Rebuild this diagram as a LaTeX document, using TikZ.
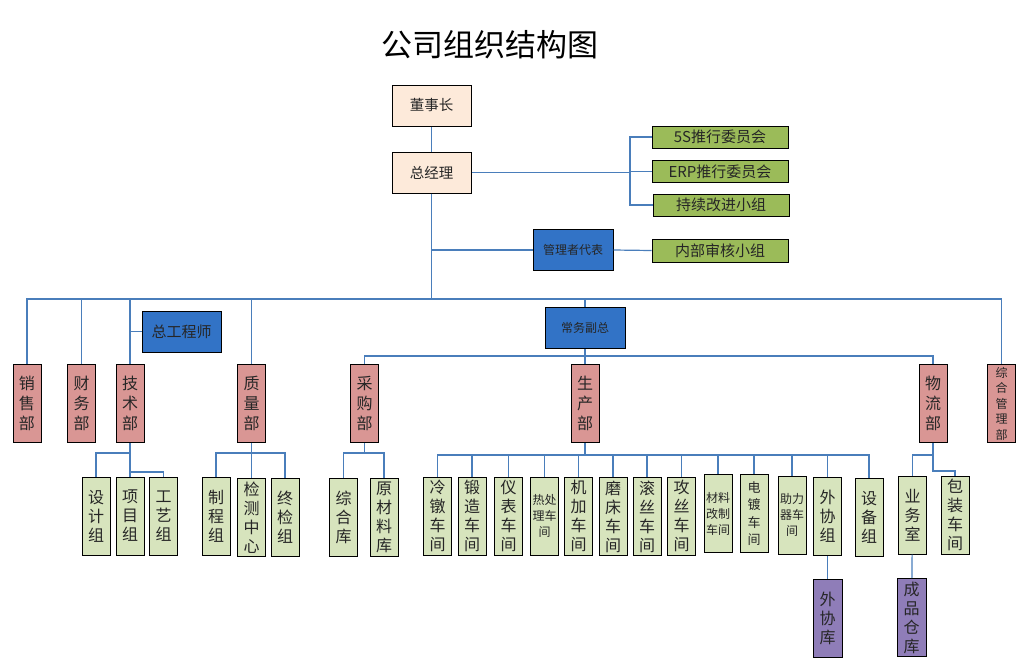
\documentclass[tikz,border=0pt]{standalone}
\usepackage{fontspec}
\setmainfont{Noto Sans CJK SC}
\usetikzlibrary{positioning}

\definecolor{peach}{HTML}{FDEADA}
\definecolor{olive}{HTML}{9BBB59}
\definecolor{lgreen}{HTML}{D7E4BD}
\definecolor{rose}{HTML}{D99694}
\definecolor{mblue}{HTML}{3273C6}
\definecolor{lilac}{HTML}{8F7DB8}
\definecolor{linkc}{HTML}{4A7EBB}

\tikzset{
  box/.style={draw=black, line width=1pt, inner sep=0pt, align=center, text=black!85},
  boss/.style={box, fill=peach, minimum width=79, minimum height=41, font=\fontsize{14.5}{16}\selectfont},
  team/.style={box, fill=olive, minimum width=136, minimum height=22, font=\fontsize{15}{16}\selectfont},
  chief/.style={box, fill=mblue, minimum width=79, minimum height=41},
  dept/.style={box, fill=rose, minimum width=28, minimum height=78, font=\fontsize{16}{20}\selectfont},
  unit/.style={box, fill=lgreen, minimum width=28, minimum height=78, font=\fontsize{16}{19}\selectfont},
  store/.style={box, fill=lilac, minimum width=29, minimum height=78, font=\fontsize{16}{19}\selectfont},
  small/.style={font=\fontsize{12}{16}\selectfont},
  link/.style={draw=linkc, line width=1.2pt}
}

\begin{document}
\begin{tikzpicture}[x=1pt,y=-1pt]
\useasboundingbox (0,0) rectangle (1017,659);

% title
\node[font=\fontsize{31}{33}\selectfont] (title) at (490,45) {公司组织结构图};

% top
\node[boss] (dsz) at (431.5,105.5) {董事长};
\node[boss] (zjl) at (431.5,172.5) {总经理};
\node[team] (wxs) at (720,137) {5S推行委员会};
\node[team] (erp) at (720,171.5) {ERP推行委员会};
\node[team] (cxgj) at (721,205) {持续改进小组};
\node[chief, minimum width=80, font=\fontsize{12}{14}\selectfont] (glz) at (573,250) {管理者代表};
\node[team, minimum height=23] (nbsh) at (720,250.5) {内部审核小组};
\node[chief, font=\fontsize{15}{16}\selectfont] (zgcs) at (181.5,331.5) {总工程师};
\node[chief, minimum width=80, font=\fontsize{12}{14}\selectfont] (cwfz) at (585,328) {常务副总};

% departments
\node[dept] (xsb) at (27,403.5) {销\\售\\部};
\node[dept] (cwb) at (81.5,403.5) {财\\务\\部};
\node[dept] (jsb) at (130,403.5) {技\\术\\部};
\node[dept] (zlb) at (251.5,403.5) {质\\量\\部};
\node[dept] (cgb) at (364.5,403.5) {采\\购\\部};
\node[dept] (scb) at (585,403.5) {生\\产\\部};
\node[dept] (wlb) at (933,403.5) {物\\流\\部};
\node[dept, font=\fontsize{12}{15.5}\selectfont] (zhb) at (1001.5,403.5) {综\\合\\管\\理\\部};

% groups
\node[unit] (sjz) at (96,516) {设\\计\\组};
\node[unit] (xmz) at (130,516) {项\\目\\组};
\node[unit] (gyz) at (163.5,516) {工\\艺\\组};
\node[unit] (zcz) at (216,516) {制\\程\\组};
\node[unit] (jczx) at (251.5,517.5) {检\\测\\中\\心};
\node[unit] (zjz) at (285,517) {终\\检\\组};
\node[unit] (zhk) at (343.5,517.5) {综\\合\\库};
\node[unit] (ycl) at (384,517.5) {原\\材\\料\\库};
\node[unit] (ld) at (437.5,516) {冷\\镦\\车\\间};
\node[unit] (dz) at (472,516) {锻\\造\\车\\间};
\node[unit] (yb) at (508.5,516) {仪\\表\\车\\间};
\node[unit, small] (rcl) at (544.5,516) {热处\\理车\\间};
\node[unit] (jj) at (578.5,516) {机\\加\\车\\间};
\node[unit] (mc) at (613,516.5) {磨\\床\\车\\间};
\node[unit] (gs) at (647,516.5) {滚\\丝\\车\\间};
\node[unit] (gongs) at (681.5,516) {攻\\丝\\车\\间};
\node[unit, small] (clgz) at (718,513.5) {材料\\改制\\车间};
\node[unit, font=\fontsize{13}{17.5}\selectfont] (dd) at (754,513.5) {电\\镀\\车\\间};
\node[unit, small] (zlq) at (792,515) {助力\\器车\\间};
\node[unit] (wxz) at (827.5,516.5) {外\\协\\组};
\node[unit] (sbz) at (869,517.5) {设\\备\\组};
\node[unit] (yws) at (912.5,515) {业\\务\\室};
\node[unit] (bzcj) at (955,515) {包\\装\\车\\间};
\node[store] (wxk) at (827.5,618) {外\\协\\库};
\node[store] (cpck) at (911.5,617.5) {成\\品\\仓\\库};

% top links
\coordinate (wy) at (630,172.5);
\coordinate (bus) at (431.5,299);
\draw[link] (dsz) -- (zjl);
\draw[link] (zjl.east) -- (wy);
\draw[link] (wxs.west) -| (wy) |- (cxgj.west);
\draw[link] (erp.west) -- (erp.west -| wy);
\draw[link] (zjl.south) -- (bus);
\draw[link] (glz.west) -- (glz.west -| bus);
\draw[link] (glz.east) -- (nbsh.west);

% main bus
\draw[link] (xsb.north) |- (bus) -| (zhb.north);
\foreach \d in {cwb,jsb,zlb,cwfz}
  \draw[link] (\d.north) -- (\d.north |- bus);
\draw[link] (zgcs.west) -- (zgcs.west -| jsb.north);

% deputy
\coordinate (fzbus) at (585,356);
\draw[link] (cwfz) -- (scb);
\draw[link] (cgb.north) |- (fzbus) -| (wlb.north);

% tech
\coordinate (jsbus) at (130,453);
\coordinate (gyj) at (130,472);
\draw[link] (jsb) -- (xmz);
\draw[link] (sjz.north) |- (jsbus);
\draw[link] (gyj) -| (gyz.north);

% quality
\coordinate (zlbus) at (251.5,453);
\draw[link] (zlb) -- (jczx);
\draw[link] (zcz.north) |- (zlbus) -| (zjz.north);

% purchase
\coordinate (cgbus) at (364.5,453);
\draw[link] (cgb.south) -- (cgbus);
\draw[link] (zhk.north) |- (cgbus) -| (ycl.north);

% production
\coordinate (scbus) at (585,455);
\draw[link] (scb.south) -- (scbus);
\draw[link] (ld.north) |- (scbus) -| (sbz.north);
\draw[link, line width=2pt] (scbus) -- (scbus -| wxz.north);
\foreach \w in {dz,yb,rcl,jj,mc,gs,gongs,clgz,dd,zlq,wxz}
  \draw[link] (\w.north) -- (\w.north |- scbus);
\draw[link] (wxz) -- (wxk);

% logistics
\coordinate (wlbus) at (933,455);
\coordinate (bzj) at (933,471);
\draw[link] (wlb.south) -- (bzj) -| (bzcj.north);
\draw[link] (yws.north) |- (wlbus);
\draw[link] (yws) -- (cpck);
\end{tikzpicture}
\end{document}
